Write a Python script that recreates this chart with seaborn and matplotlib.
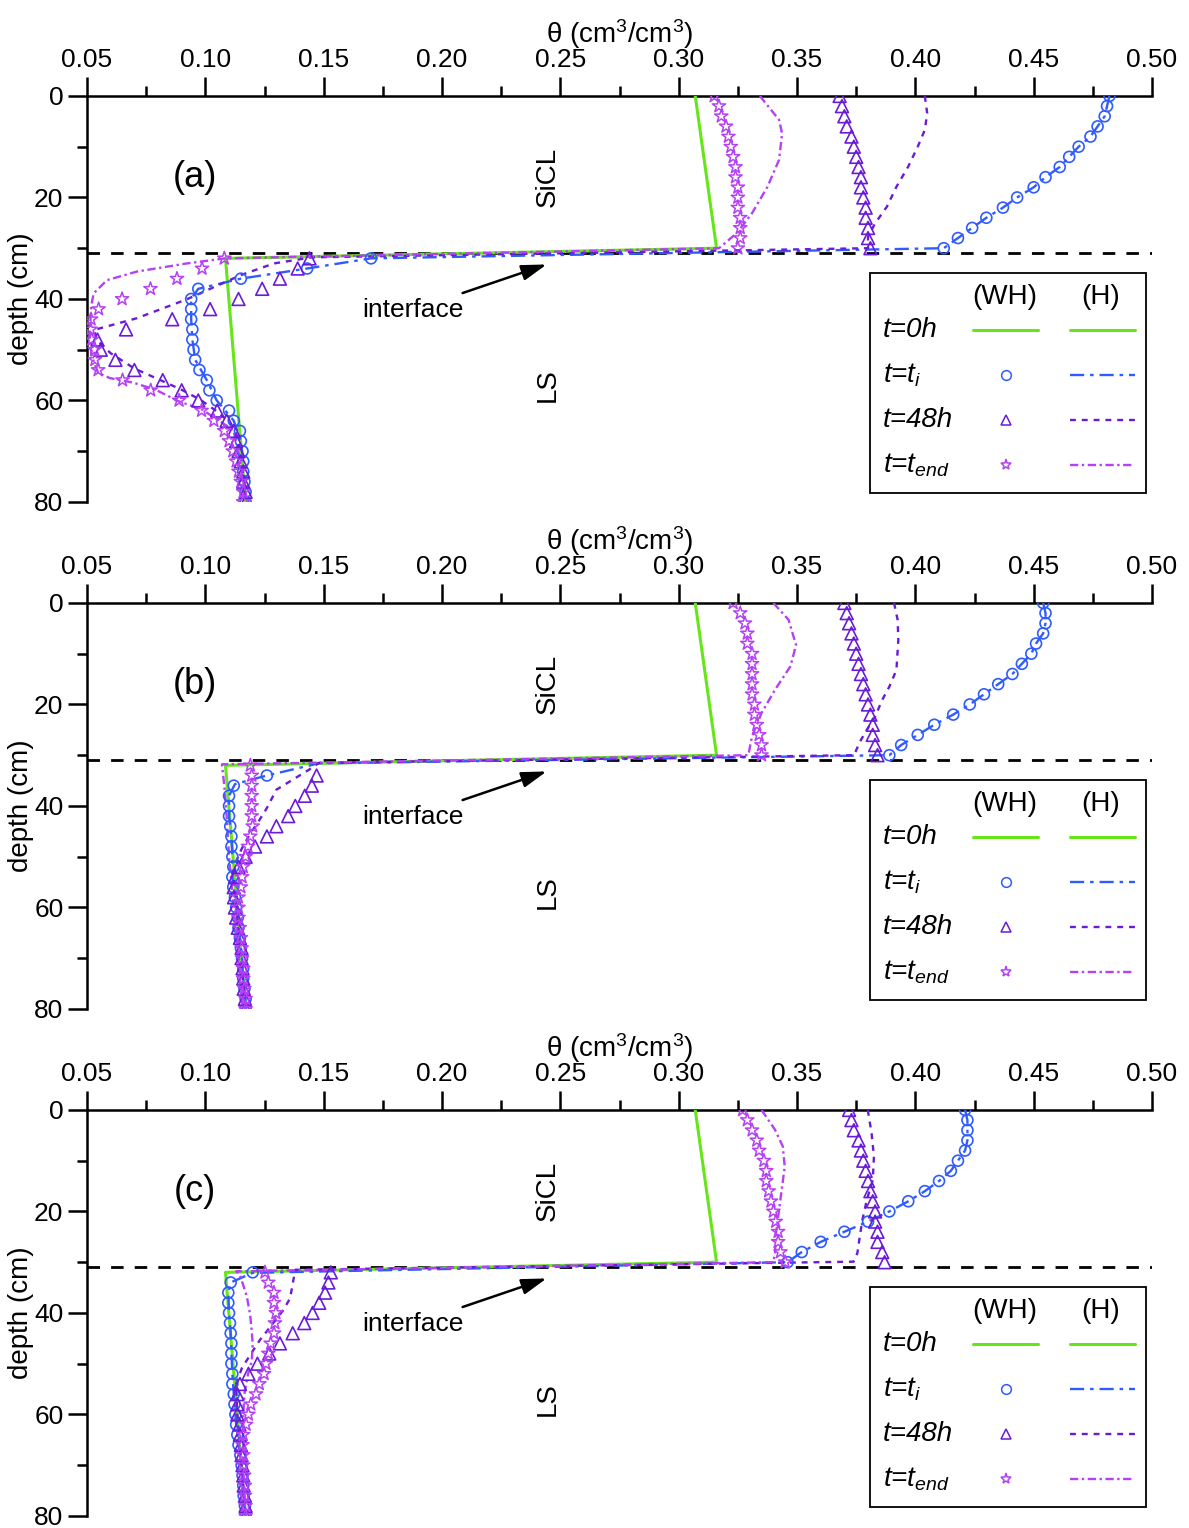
import numpy as np
import matplotlib
matplotlib.use('Agg')
import matplotlib.pyplot as plt
import seaborn as sns
from matplotlib.lines import Line2D
from matplotlib.patches import Rectangle
from matplotlib.ticker import MultipleLocator, FormatStrFormatter

sns.set_style('ticks')
plt.rcParams['font.family'] = ['Liberation Sans', 'DejaVu Sans']
plt.rcParams['mathtext.fontset'] = 'custom'
plt.rcParams['mathtext.rm'] = 'Liberation Sans'
plt.rcParams['mathtext.it'] = 'Liberation Sans:italic'
plt.rcParams['mathtext.bf'] = 'Liberation Sans:bold'
for k in ['text.color', 'axes.labelcolor', 'xtick.color', 'ytick.color', 'axes.edgecolor']:
    plt.rcParams[k] = 'black'

# %%
# Data: theta (cm3/cm3) vs depth (cm)
# WH markers sit on a 2 cm grid, nan = marker not visible
depth_wh = [0, 2, 4, 6, 8, 10, 12, 14, 16, 18, 20, 22, 24, 26, 28, 30,
            32, 34, 36, 38, 40, 42, 44, 46, 48, 50, 52, 54, 56, 58, 60,
            62, 64, 66, 68, 70, 72, 74, 76, 78, 80]

# t = 0 h (same in every panel, WH and H)
t0_depth = [0, 30, 32, 80]
t0_theta = [0.307, 0.316, 0.1085, 0.117]

# ---- panel (a)
a_ti_wh = [0.482, 0.481, 0.480, 0.477, 0.474, 0.469, 0.465, 0.461, 0.455, 0.450, 0.443, 0.437, 0.430, 0.424, 0.418, 0.412,
           0.170, 0.143, 0.115, 0.097, 0.094, 0.094, 0.094, 0.0945, 0.0945, 0.095, 0.0957, 0.0975, 0.1006, 0.1017, 0.1048,
           0.110, 0.112, 0.1146, 0.115, 0.1157, 0.116, 0.116, 0.1165, 0.117, 0.117]
a_48_wh = [0.368, 0.369, 0.370, 0.371, 0.373, 0.374, 0.375, 0.376, 0.377, 0.377, 0.378, 0.379, 0.379, 0.380, 0.380, 0.381,
           0.144, 0.139, 0.1315, 0.124, 0.114, 0.102, 0.086, 0.0665, 0.0544, 0.0558, 0.062, 0.070, 0.082, 0.090, 0.097,
           0.105, 0.109, 0.112, 0.113, 0.114, 0.115, 0.116, 0.116, 0.117, 0.117]
a_end_wh = [0.315, 0.317, 0.318, 0.320, 0.321, 0.322, 0.323, 0.324, 0.324, 0.325, 0.325, 0.325, 0.326, 0.326, 0.326, 0.325,
            0.108, 0.0986, 0.088, 0.0768, 0.0648, 0.0549, 0.0517, 0.0515, 0.052, 0.0532, 0.0533, 0.0547, 0.065, 0.0769, 0.0889,
            0.0984, 0.1036, 0.108, 0.110, 0.1116, 0.113, 0.114, 0.115, 0.116, 0.116]

a_ti_h_dep = [0, 2, 4, 6, 8, 10, 12, 14, 16, 18, 20, 22, 24, 26, 28, 30,
              32, 34, 36, 38, 40, 44, 48, 52, 56, 60, 64, 68, 72, 76, 80]
a_ti_h = [0.482, 0.481, 0.480, 0.477, 0.474, 0.469, 0.465, 0.461, 0.455, 0.450, 0.443, 0.437, 0.430, 0.424, 0.418, 0.412,
          0.170, 0.143, 0.115, 0.097, 0.094, 0.094, 0.0945, 0.0957, 0.1006, 0.1048, 0.112, 0.115, 0.116, 0.1165, 0.117]
a_48_h_dep = [0, 3.4, 6.7, 10, 13.9, 17.9, 21.8, 25.1, 27.7, 30,
              31.8, 33, 35.3, 40.1, 43.8, 46.1, 48, 50.7, 53.7, 56, 57.9, 59.9, 62.2, 64.2, 66.5, 70, 75, 80]
a_48_h = [0.404, 0.405, 0.404, 0.401, 0.397, 0.392, 0.388, 0.383, 0.380, 0.380,
          0.145, 0.129, 0.115, 0.092, 0.071, 0.053, 0.054, 0.060, 0.070, 0.081, 0.090, 0.098, 0.105, 0.110, 0.113, 0.115, 0.116, 0.117]
a_end_h_dep = [0, 4.7, 7.4, 12.6, 17.9, 23.1, 27, 30,
               32, 33, 34.6, 36.3, 38.9, 41.5, 44.8, 48, 51.3, 54.6, 55.6, 56.5, 57.9, 60.2, 61.8, 63.8, 65.8, 70, 75, 80]
a_end_h = [0.3343, 0.3424, 0.3437, 0.3424, 0.3375, 0.331, 0.3246, 0.317,
           0.1084, 0.0922, 0.0711, 0.0584, 0.0528, 0.0517, 0.0514, 0.051, 0.052, 0.0547, 0.0597, 0.0696, 0.079, 0.0889,
           0.0987, 0.105, 0.1118, 0.114, 0.1155, 0.116]

# ---- panel (b)
b_ti_wh = [0.454, 0.455, 0.455, 0.454, 0.451, 0.449, 0.445, 0.441, 0.435, 0.429, 0.423, 0.416, 0.408, 0.401, 0.394, 0.389,
           np.nan, 0.126, 0.112, 0.110, 0.110, 0.110, 0.1105, 0.111, 0.111, 0.1114, 0.1118, 0.1114, 0.1118, 0.1125, 0.113,
           0.1137, 0.114, 0.1146, 0.115, 0.1155, 0.116, 0.116, 0.1165, 0.117, 0.117]
b_48_wh = [0.370, 0.371, 0.372, 0.373, 0.374, 0.375, 0.376, 0.377, 0.378, 0.379, 0.380, 0.381, 0.382, 0.382, 0.383, 0.384,
           np.nan, 0.147, 0.145, 0.142, 0.138, 0.135, 0.130, 0.126, 0.121, 0.117, 0.114, 0.1125, 0.112, 0.1121, 0.1125,
           0.113, 0.1137, 0.1146, 0.1153, 0.1153, 0.1157, 0.116, 0.1162, 0.1167, 0.117]
b_end_wh = [0.323, 0.326, 0.328, 0.329, 0.329, 0.331, 0.331, 0.331, 0.331, 0.331, 0.332, 0.332, 0.333, 0.334, 0.335, 0.335,
            0.119, 0.1196, 0.1196, 0.1196, 0.1196, 0.1196, 0.120, 0.119, 0.118, 0.117, 0.116, 0.1155, 0.115, 0.114, 0.114,
            0.114, 0.1145, 0.115, 0.1153, 0.1155, 0.116, 0.116, 0.1165, 0.117, 0.117]

b_ti_h_dep = [0, 2, 4, 6, 8, 10, 12, 14, 16, 18, 20, 22, 24, 26, 28, 30,
              31.6, 34, 35.7, 38, 42, 46, 50, 54, 58, 62, 66, 70, 74, 78, 80]
b_ti_h = [0.454, 0.455, 0.455, 0.454, 0.451, 0.449, 0.445, 0.441, 0.435, 0.429, 0.423, 0.416, 0.408, 0.401, 0.394, 0.389,
          0.148, 0.126, 0.1125, 0.110, 0.110, 0.111, 0.1114, 0.1114, 0.1125, 0.1137, 0.1146, 0.1155, 0.116, 0.117, 0.117]
b_48_h_dep = [0, 3.3, 7.3, 13.2, 16.5, 19.1, 22.4, 25, 27, 29, 30,
              31.5, 32.8, 36.8, 40.4, 43.1, 45.4, 48.4, 50.7, 54, 60, 70, 80]
b_48_h = [0.391, 0.3925, 0.3928, 0.392, 0.389, 0.386, 0.383, 0.3795, 0.377, 0.375, 0.3744,
          0.148, 0.144, 0.130, 0.126, 0.1224, 0.119, 0.1154, 0.1132, 0.112, 0.113, 0.115, 0.117]
b_end_h_dep = [0, 3.3, 8.3, 12.5, 17.1, 21.7, 26.3, 30,
               31.8, 36, 42, 50, 60, 70, 80]
b_end_h = [0.340, 0.3464, 0.3496, 0.3472, 0.3407, 0.335, 0.331, 0.3294,
           0.107, 0.108, 0.109, 0.110, 0.112, 0.114, 0.117]

# ---- panel (c)
c_ti_wh = [0.421, 0.422, 0.422, 0.422, 0.421, 0.418, 0.415, 0.410, 0.404, 0.397, 0.389, 0.380, 0.370, 0.360, 0.352, 0.346,
           0.120, 0.1107, 0.1097, 0.1097, 0.110, 0.1104, 0.1107, 0.111, 0.111, 0.111, 0.1114, 0.1114, 0.112, 0.1123, 0.1127,
           0.113, 0.1135, 0.114, 0.1148, 0.1153, 0.1157, 0.116, 0.1162, 0.1167, 0.117]
c_48_wh = [0.372, 0.373, 0.374, 0.376, 0.377, 0.378, 0.379, 0.380, 0.381, 0.382, 0.383, 0.383, 0.384, 0.384, 0.386, 0.387,
           0.153, 0.152, 0.1506, 0.1481, 0.1453, 0.1418, 0.1369, 0.1315, 0.127, 0.122, 0.1182, 0.1146, 0.1135, 0.1135, 0.1135,
           0.1144, 0.1146, 0.115, 0.1153, 0.1157, 0.116, 0.1162, 0.1167, 0.117, 0.117]
c_end_wh = [0.327, 0.329, 0.331, 0.333, 0.334, 0.336, 0.337, 0.337, 0.338, 0.339, 0.340, 0.341, 0.342, 0.342, 0.343, 0.345,
            0.1252, 0.1266, 0.129, 0.129, 0.1298, 0.1294, 0.129, 0.1276, 0.1266, 0.1256, 0.1248, 0.1228, 0.1214, 0.1192, 0.1182,
            0.1172, 0.116, 0.1157, 0.116, 0.116, 0.1164, 0.1167, 0.1167, 0.117, 0.117]

c_ti_h_dep = [0, 2, 4, 6, 8, 10, 12, 14, 16, 18, 20, 22, 24, 26, 28, 30,
              32.1, 34, 36, 40, 44, 48, 52, 56, 62, 66, 70, 76, 80]
c_ti_h = [0.421, 0.422, 0.422, 0.422, 0.421, 0.418, 0.415, 0.410, 0.404, 0.397, 0.389, 0.380, 0.370, 0.360, 0.352, 0.346,
          0.120, 0.1107, 0.1097, 0.110, 0.1107, 0.111, 0.1114, 0.112, 0.113, 0.114, 0.1153, 0.1162, 0.117]
c_48_h_dep = [0, 4.6, 9.2, 13.8, 17.7, 21.7, 25.6, 28.2, 29.9,
              31.5, 33.5, 37.1, 39.4, 42.4, 45.3, 48.3, 50.9, 54, 60, 70, 80]
c_48_h = [0.3799, 0.3815, 0.3825, 0.382, 0.3795, 0.3776, 0.3763, 0.3755, 0.3739,
          0.138, 0.1372, 0.1358, 0.133, 0.128, 0.1231, 0.1189, 0.1154, 0.113, 0.1135, 0.1153, 0.117]
c_end_h_dep = [0, 3.9, 7.2, 11.2, 15.1, 19.7, 24.3, 28.2, 30,
               31.8, 32.5, 36.7, 40.3, 43.6, 46.2, 49.5, 52.1, 56, 60, 70, 80]
c_end_h = [0.335, 0.3407, 0.344, 0.3448, 0.3437, 0.3424, 0.3411, 0.3407, 0.340,
           0.113, 0.1146, 0.1175, 0.1189, 0.1196, 0.12, 0.1196, 0.118, 0.1165, 0.116, 0.116, 0.117]

panel_tags = ['(a)', '(b)', '(c)']
interface_depth = 31

# %%
# Styles
c_green = '#66E619'
c_blue = '#2F5BFF'
c_purple = '#6A1BD8'
c_pink = '#B540F5'
ls_ti = (0, (6, 2.5, 1.5, 2.5))
ls_48 = (0, (2.5, 2.5))
ls_end = (0, (3.5, 1.5, 1, 1.5))

fig = plt.figure(figsize=(11.89, 15.28), dpi=100)
ax_left, ax_w, ax_h = 0.0732, 0.8957, 0.2657
ax_bottoms = [0.6715, 0.3397, 0.0079]


def draw_panel(ax, tag, ti_wh, h48_wh, end_wh, ti_h, h48_h, end_h):
    ti_h_dep, ti_h_th = ti_h
    h48_dep, h48_th = h48_h
    end_dep, end_th = end_h

    ax.axhline(interface_depth, color='k', lw=2, ls=(0, (4.5, 4)), zorder=1)

    # H (lines)
    sns.lineplot(x=t0_theta, y=t0_depth, sort=False, estimator=None, color=c_green, lw=2.2, ax=ax, zorder=3)
    sns.lineplot(x=ti_h_th, y=ti_h_dep, sort=False, estimator=None, color=c_blue, lw=1.7, linestyle=ls_ti, ax=ax, zorder=3)
    sns.lineplot(x=h48_th, y=h48_dep, sort=False, estimator=None, color=c_purple, lw=1.7, linestyle=ls_48, ax=ax, zorder=3)
    sns.lineplot(x=end_th, y=end_dep, sort=False, estimator=None, color=c_pink, lw=1.7, linestyle=ls_end, ax=ax, zorder=3)

    # WH (markers)
    sns.scatterplot(x=ti_wh, y=depth_wh, marker='o', s=62, facecolors='none', edgecolor=c_blue, linewidth=1.2, ax=ax, zorder=4)
    sns.scatterplot(x=h48_wh, y=depth_wh, marker='^', s=85, facecolors='none', edgecolor=c_purple, linewidth=1.2, ax=ax, zorder=4)
    sns.scatterplot(x=end_wh, y=depth_wh, marker='*', s=100, facecolors='none', edgecolor=c_pink, linewidth=1.1, ax=ax, zorder=4)

    ax.set_xlim(0.05, 0.50)
    ax.set_ylim(80, 0)
    ax.xaxis.tick_top()
    ax.xaxis.set_label_position('top')
    ax.xaxis.set_major_locator(MultipleLocator(0.05))
    ax.xaxis.set_minor_locator(MultipleLocator(0.025))
    ax.xaxis.set_major_formatter(FormatStrFormatter('%.2f'))
    ax.yaxis.set_major_locator(MultipleLocator(20))
    ax.yaxis.set_minor_locator(MultipleLocator(10))
    ax.spines['bottom'].set_visible(False)
    ax.spines['right'].set_visible(False)
    for s in ['top', 'left']:
        ax.spines[s].set_linewidth(1.8)
    ax.tick_params(which='major', direction='out', length=14, width=1.8, labelsize=19, pad=3)
    ax.tick_params(which='minor', direction='out', length=7, width=1.8)
    ax.tick_params(axis='x', top=True, bottom=False, labeltop=True, labelbottom=False)
    ax.set_xlabel('θ (cm$^3$/cm$^3$)', fontsize=20, labelpad=4)
    ax.set_ylabel('depth (cm)', fontsize=20)
    ax.yaxis.set_label_coords(-0.05, 0.5)

    ax.text(0.0956, 16, tag, fontsize=26, ha='center', va='center')
    ax.text(0.2448, 16, 'SiCL', fontsize=20, rotation=90, ha='center', va='center')
    ax.text(0.2448, 57, 'LS', fontsize=20, rotation=90, ha='center', va='center')
    ax.annotate('interface', xy=(0.2442, 33.2), xytext=(0.1875, 42.2), fontsize=19,
                ha='center', va='center',
                arrowprops=dict(arrowstyle='-|>,head_length=0.8,head_width=0.25', color='k', lw=1.8,
                                shrinkA=4, shrinkB=0))

    # key box (two columns: WH markers, H lines)
    tr = ax.transAxes
    ax.add_patch(Rectangle((0.735, 0.022), 0.259, 0.542, transform=tr, fc='white', ec='k', lw=1.3, zorder=6))
    ax.text(0.862, 0.505, '(WH)', transform=tr, ha='center', va='center', fontsize=20, zorder=7)
    ax.text(0.952, 0.505, '(H)', transform=tr, ha='center', va='center', fontsize=20, zorder=7)
    rows_y = [0.424, 0.313, 0.202, 0.091]
    row_labels = ['t=0h', 't=$t_i$', 't=48h', 't=$t_{end}$']
    row_cols = [c_green, c_blue, c_purple, c_pink]
    row_ls = ['-', ls_ti, ls_48, ls_end]
    row_mk = [None, 'o', '^', '*']
    for y, lab, col, ls, mk in zip(rows_y, row_labels, row_cols, row_ls, row_mk):
        ax.text(0.747, y, lab, transform=tr, ha='left', va='center', fontsize=20, fontstyle='italic', zorder=7)
        if mk is None:
            ax.add_line(Line2D([0.832, 0.893], [y, y], transform=tr, color=col, lw=2.2, zorder=7))
        else:
            ax.add_line(Line2D([0.863], [y], transform=tr, marker=mk, ms=8 if mk == '*' else 7,
                               mfc='none', mec=col, mew=1.1, ls='none', zorder=7))
        ax.add_line(Line2D([0.923, 0.984], [y, y], transform=tr, color=col, lw=2.2 if mk is None else 1.7,
                           linestyle=ls, zorder=7))


panels = [
    (a_ti_wh, a_48_wh, a_end_wh, (a_ti_h_dep, a_ti_h), (a_48_h_dep, a_48_h), (a_end_h_dep, a_end_h)),
    (b_ti_wh, b_48_wh, b_end_wh, (b_ti_h_dep, b_ti_h), (b_48_h_dep, b_48_h), (b_end_h_dep, b_end_h)),
    (c_ti_wh, c_48_wh, c_end_wh, (c_ti_h_dep, c_ti_h), (c_48_h_dep, c_48_h), (c_end_h_dep, c_end_h)),
]

for bottom, tag, p in zip(ax_bottoms, panel_tags, panels):
    ax = fig.add_axes([ax_left, bottom, ax_w, ax_h])
    draw_panel(ax, tag, *p)
    if ax.get_legend() is not None:
        ax.get_legend().remove()

fig.savefig('out.png', dpi=100)
